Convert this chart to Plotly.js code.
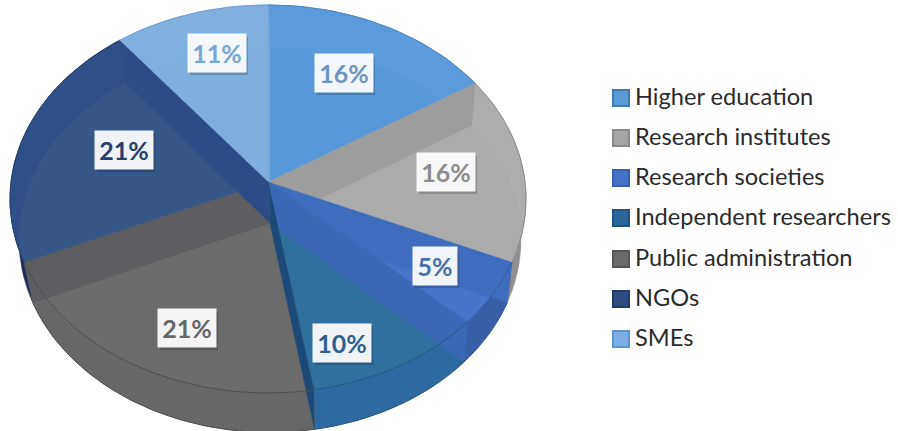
<!DOCTYPE html>
<html><head><meta charset="utf-8"><script src="https://cdn.plot.ly/plotly-3.0.0.min.js"></script>
<style>html,body{margin:0;padding:0;background:#fff}</style></head><body><div id="c" style="width:898px;height:431px"></div>
<script>
const categories=["Higher education","Research institutes","Research societies","Independent researchers","Public administration","NGOs","SMEs"];
const shares=[16,15.6,5.4,10.4,21,21,10.6];
const shareLabels=["16%","16%","5%","10%","21%","21%","11%"];

// styles, per slice
const rimColors=["#5c9bdb","#adadad","#3f6dbe","#2f6fa6","#6b6b6b","#2f4f88","#80b0e0"];
const innerColors=["#5798d8","#ababab","#4674c6","#2f709f","#6b6b6b","#375788","#7fafdf"];
const wallColors=["#4f86bd","#8f8f8f","#375fa5","#2e6aa2","#676767","#1e2e55","#6f9fd0"];
const rimLineColors=["#4d86bf","#8c8c8c","#2f5a9e","#24557f","#4c4c4c","#24406f","#6f9fd0"];
const legendColors=["#5b9bd5","#a5a5a5","#4472c4","#2a6699","#6b6b6b","#2f4b82","#7cb0e4"];
const legendEdges=["#3f7ab5","#8a8a8a","#3560ad","#1f5280","#565656","#223a68","#5c94cc"];
// styles, per slice boundary (wall seen through the face)
const edgeColors=["#79a8d8","#9d9d9d","#3f6dbe","#3a68b5","#1c4a78","#5e5e62","#2b4c86"];
const labelColors=["#6f94bf","#8c8c8c","#4a70a8","#2f6092","#666666","#25406f","#7aa6d3"];
// layout: label box centres and legend rows
const labelX=[344,446,435,342,187,124,217];
const labelY=[73,172,266,343,328,150,53];
const legendRowY=[98,138,178,218,259,299,339];
const legendX=621;
const legendTextX=635;

const upper={cx:268,cy:182,R:257,S:192.5};
const lower={cx:270,cy:223,R:250,S:191};
const persp=0.0876;
const rad=d=>d*Math.PI/180;
function rimPoint(e,deg){const u=Math.sin(rad(deg)),v=Math.cos(rad(deg)),w=1+persp*v;
  return [e.cx+e.R*u/w,e.cy-e.S*v/w];}
function arc(e,a,b){const n=Math.max(2,Math.ceil((b-a)/2)),p=[];
  for(let i=0;i<=n;i++)p.push(rimPoint(e,a+(b-a)*i/n));return p;}
const total=shares.reduce((s,v)=>s+v,0);
const bounds=[0];shares.forEach(v=>bounds.push(bounds[bounds.length-1]+v/total*360));
const wedge=(e,a,b)=>[[e.cx,e.cy],...arc(e,a,b)];

function clipConvex(pts,clip){
  let area=0;clip.forEach((p,i)=>{const q=clip[(i+1)%clip.length];area+=p[0]*q[1]-q[0]*p[1];});
  const sgn=area>0?1:-1;let out=pts;
  for(let i=0;i<clip.length;i++){
    const A=clip[i],B=clip[(i+1)%clip.length];
    const side=P=>sgn*((B[0]-A[0])*(P[1]-A[1])-(B[1]-A[1])*(P[0]-A[0]));
    const input=out;out=[];
    for(let j=0;j<input.length;j++){
      const P=input[j],Q=input[(j+1)%input.length],sp=side(P),sq=side(Q);
      if(sp>=0)out.push(P);
      if((sp>=0)!==(sq>=0)){const t=sp/(sp-sq);out.push([P[0]+t*(Q[0]-P[0]),P[1]+t*(Q[1]-P[1])]);}
    }
    if(!out.length)break;
  }
  return out;
}
function poly(points,color,name){const c=[...points,points[0]];
  return {type:"scatter",mode:"lines",x:c.map(p=>p[0]),y:c.map(p=>p[1]),fill:"toself",fillcolor:color,
    line:{width:0.5,color:color},hoverinfo:name?"text":"skip",text:name||"",showlegend:false};}
function line(points,color,width){return {type:"scatter",mode:"lines",x:points.map(p=>p[0]),y:points.map(p=>p[1]),
    line:{width:width,color:color},hoverinfo:"skip",showlegend:false};}

const traces=[];
// outer side walls
shares.forEach((v,i)=>{const a=bounds[i],b=bounds[i+1];
  traces.push(poly([...arc(upper,a,b),...arc(lower,a,b).reverse()],wallColors[i]));});
// upper faces
shares.forEach((v,i)=>traces.push(poly(wedge(upper,bounds[i],bounds[i+1]),rimColors[i],categories[i]+": "+shareLabels[i])));
// floor of each slice as seen through its own face
shares.forEach((v,i)=>{const a=bounds[i],b=bounds[i+1];
  traces.push(poly(clipConvex(wedge(lower,a,b),wedge(upper,a,b)),innerColors[i]));});
// radial walls
shares.forEach((v,i)=>{const d=bounds[i];
  traces.push(poly([[upper.cx,upper.cy],rimPoint(upper,d),rimPoint(lower,d),[lower.cx,lower.cy]],edgeColors[i]));});
// rim lines
shares.forEach((v,i)=>traces.push(line(arc(upper,bounds[i],bounds[i+1]),rimLineColors[i],1)));
shares.forEach((v,i)=>{const a=bounds[i],b=bounds[i+1];
  if((a+b)/2>90&&(a+b)/2<270)traces.push(line(arc(lower,a,b),rimLineColors[i],1));});
// legend rows
traces.push({type:"scatter",mode:"markers",x:categories.map(()=>legendX),y:legendRowY,cliponaxis:false,
  marker:{symbol:"square",size:16,color:legendColors,line:{width:2,color:legendEdges}},hoverinfo:"skip",showlegend:false});
traces.push({type:"scatter",mode:"text",x:categories.map(()=>legendTextX),y:legendRowY.map(y=>y+1),text:categories,
  textposition:"middle right",textfont:{family:"Lato, Open Sans",size:23.6,color:"#2b2b2b"},cliponaxis:false,
  hoverinfo:"skip",showlegend:false});

const BH=38;
const boxW=shareLabels.map(s=>s.length<3?44:58);
const shapes=labelX.map((x,i)=>({type:"rect",xref:"x",yref:"y",x0:x-boxW[i]/2+2,x1:x+boxW[i]/2+2,y0:labelY[i]-BH/2+3,y1:labelY[i]+BH/2+3,
  fillcolor:"rgba(0,0,0,0.18)",line:{width:0}}));
const annotations=labelX.map((x,i)=>({xref:"x",yref:"y",x:x,y:labelY[i],text:"<b>"+shareLabels[i]+"</b>",showarrow:false,
  bgcolor:"rgba(255,255,255,0.93)",width:boxW[i],height:BH,borderpad:0,
  font:{family:"Lato, Open Sans",size:25,color:labelColors[i]}}));

Plotly.newPlot("c",traces,{width:898,height:431,margin:{l:0,r:0,t:0,b:0},paper_bgcolor:"#fff",plot_bgcolor:"#fff",showlegend:false,
  xaxis:{range:[0,898],visible:false,fixedrange:true},
  yaxis:{range:[431,0],visible:false,fixedrange:true},shapes,annotations},{displayModeBar:false});
</script></body></html>
